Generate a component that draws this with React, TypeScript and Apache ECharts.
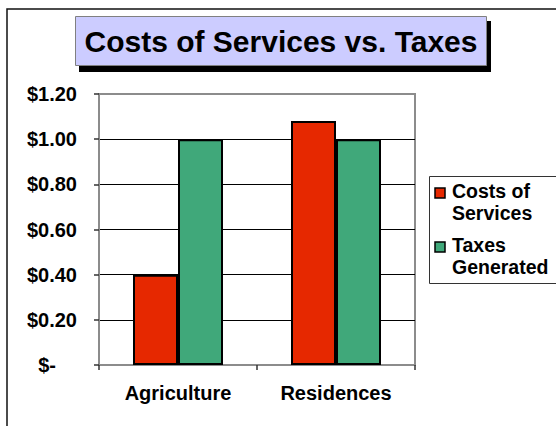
import React, { useEffect, useRef } from "react";
import * as echarts from "echarts";

const categories = ["Agriculture", "Residences"];
const costsOfServices = [0.4, 1.08];
const taxesGenerated = [1.0, 1.0];
const seriesNames = ["Costs of Services", "Taxes Generated"];
const legendLines = [["Costs of", "Services"], ["Taxes", "Generated"]];
const titleText = "Costs of Services vs. Taxes";

const FONT = "'Liberation Sans', Arial, Helvetica, sans-serif";
const RED = "#E62800";
const GREEN = "#40A87A";

export default function App() {
  const ref = useRef<HTMLDivElement>(null);
  useEffect(() => {
    if (!ref.current) return;
    const chart = echarts.init(ref.current, undefined, { renderer: "svg" });
    const colors = [RED, GREEN];
    const legendGraphics: any[] = [];
    const legendTop = [188, 242];
    legendLines.forEach((lines, i) => {
      legendGraphics.push({
        type: "rect",
        shape: { x: 435, y: legendTop[i], width: 10, height: 10 },
        style: { fill: colors[i], stroke: "#000", lineWidth: 1.5 },
        z: 10,
      });
      lines.forEach((ln, j) => {
        legendGraphics.push({
          type: "text",
          x: 452,
          y: legendTop[i] + 3 + j * 22,
          style: {
            text: ln,
            font: `bold 19.5px ${FONT}`,
            fill: "#000",
            textAlign: "left",
            textVerticalAlign: "middle",
          },
          z: 10,
        });
      });
    });

    chart.setOption({
      animation: false,
      backgroundColor: "#fff",
      title: {
        text: titleText,
        left: 281,
        top: 41,
        padding: 0,
        textAlign: "center",
        textVerticalAlign: "middle",
        textStyle: { fontFamily: FONT, fontWeight: "bold", fontSize: 30, color: "#000" },
        z: 10,
      },
      graphic: [
        {
          type: "rect",
          shape: { x: 7, y: 9, width: 600, height: 500 },
          style: { fill: "none", stroke: "#111", lineWidth: 1.5 },
          z: 0,
        },
        {
          type: "rect",
          shape: { x: 79, y: 21, width: 412, height: 51 },
          style: { fill: "#000" },
          z: 1,
        },
        {
          type: "rect",
          shape: { x: 75.5, y: 16.5, width: 411, height: 49 },
          style: { fill: "#CCCCFF", stroke: "#808080", lineWidth: 1 },
          z: 2,
        },
        {
          type: "rect",
          shape: { x: 429.5, y: 176.5, width: 140, height: 107 },
          style: { fill: "#fff", stroke: "#333", lineWidth: 1 },
          z: 3,
        },
        ...legendGraphics,
      ],
      legend: { show: false, data: seriesNames },
      grid: {
        left: 99,
        right: 141,
        top: 94,
        bottom: 61,
        show: true,
        borderColor: "#8c8c8c",
        borderWidth: 2,
        backgroundColor: "#fff",
      },
      xAxis: {
        type: "category",
        data: categories,
        axisLine: { lineStyle: { color: "#8c8c8c", width: 2 } },
        axisTick: { show: true, length: 5, lineStyle: { color: "#333", width: 1.5 } },
        axisLabel: {
          margin: 18,
          fontFamily: FONT,
          fontWeight: "bold",
          fontSize: 20,
          color: "#000",
        },
        splitLine: { show: false },
      },
      yAxis: {
        type: "value",
        min: 0,
        max: 1.2,
        interval: 0.2,
        axisLine: { show: true, lineStyle: { color: "#8c8c8c", width: 2 } },
        axisTick: { show: true, length: 5, lineStyle: { color: "#333", width: 1.5 } },
        axisLabel: {
          margin: 22,
          fontFamily: FONT,
          fontWeight: "bold",
          fontSize: 20,
          color: "#000",
          formatter: (v: number) => (v === 0 ? "{z|$-}" : "$" + v.toFixed(2)),
          rich: {
            z: {
              fontFamily: FONT,
              fontWeight: "bold",
              fontSize: 20,
              color: "#000",
              padding: [0, 21, 0, 0],
            },
          },
        },
        splitLine: {
          show: true,
          lineStyle: {
            color: ["#8c8c8c", "#000", "#000", "#000", "#000", "#000", "#8c8c8c"],
            width: 1,
          },
        },
      },
      series: [
        {
          name: seriesNames[0],
          type: "bar",
          data: costsOfServices,
          barWidth: 45,
          barGap: "0%",
          itemStyle: { color: RED, borderColor: "#000", borderWidth: 2 },
        },
        {
          name: seriesNames[1],
          type: "bar",
          data: taxesGenerated,
          barWidth: 45,
          barGap: "0%",
          itemStyle: { color: GREEN, borderColor: "#000", borderWidth: 2 },
        },
      ],
    });
    return () => chart.dispose();
  }, []);
  return (
    <div
      ref={ref}
      style={{ position: "fixed", left: 0, top: 0, width: 556, height: 426 }}
    />
  );
}
